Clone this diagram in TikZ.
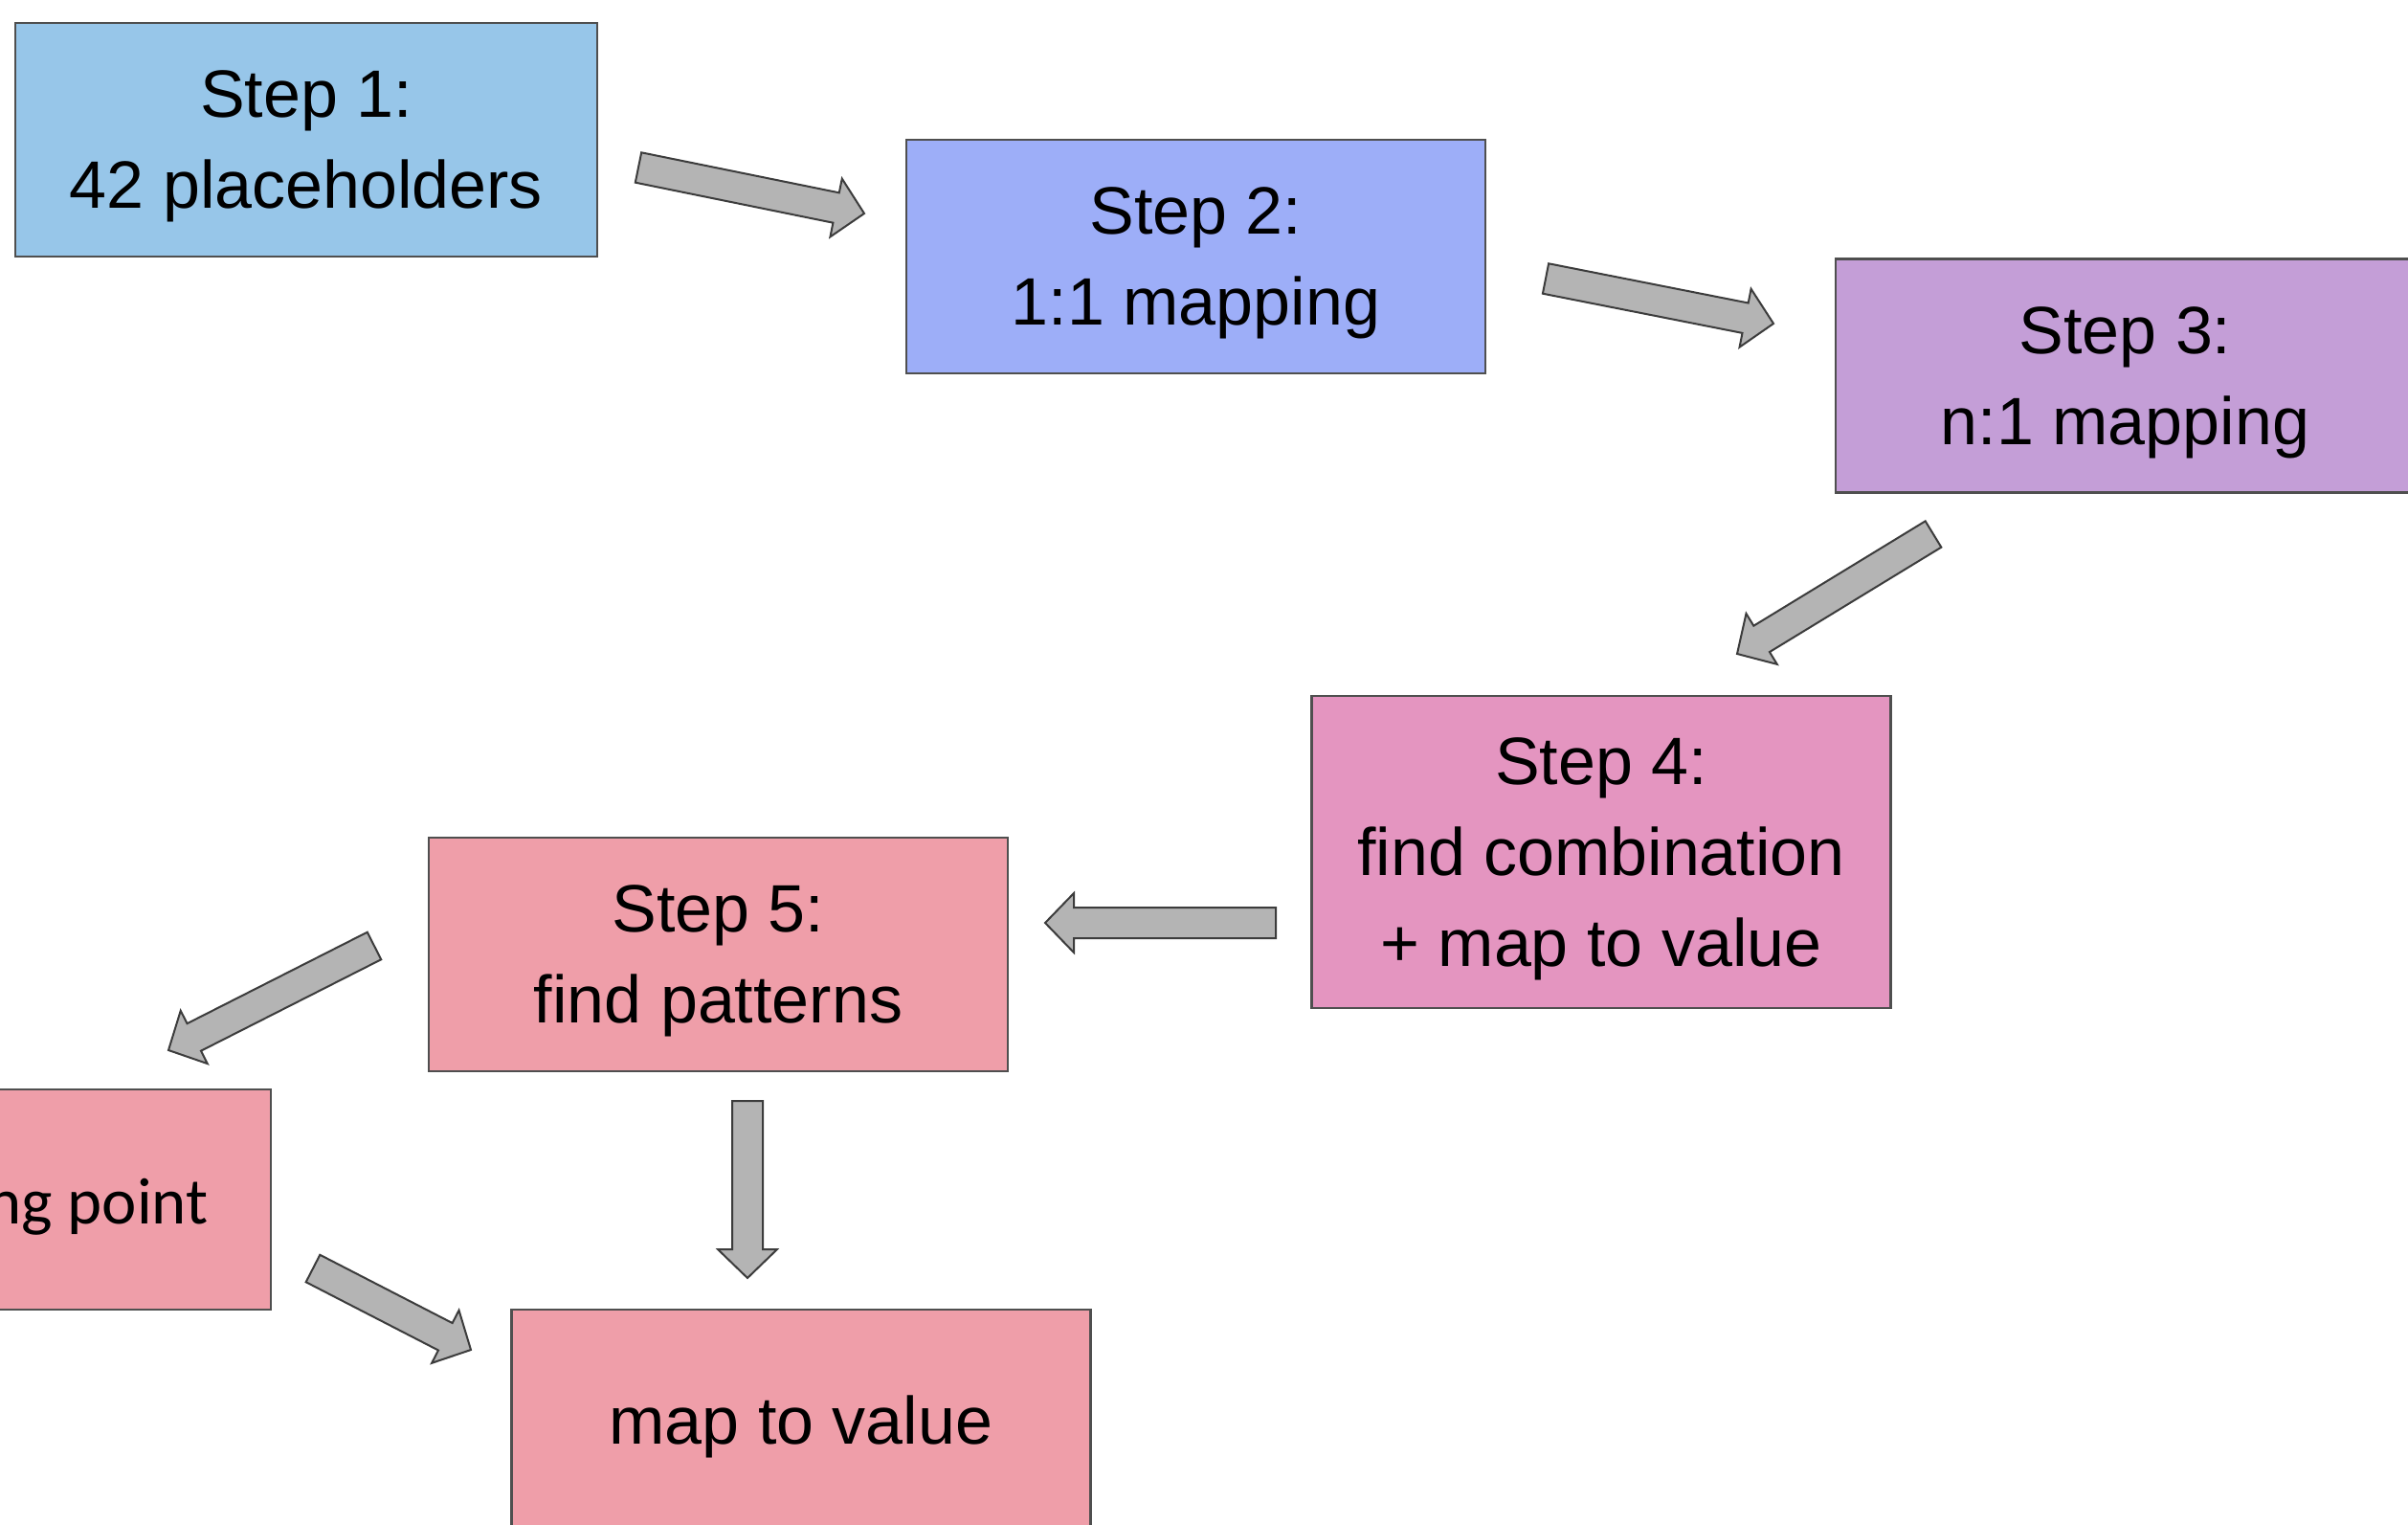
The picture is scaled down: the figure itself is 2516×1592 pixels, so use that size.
\documentclass[tikz,border=0pt]{standalone}
\usepackage{fontspec}
\setmainfont{Liberation Sans}
\newfontfamily\calfont{Carlito}
\usetikzlibrary{calc}

\definecolor{fillone}{HTML}{97C6E9}
\definecolor{filltwo}{HTML}{9DAEF8}
\definecolor{fillthree}{HTML}{C49ED7}
\definecolor{fillfour}{HTML}{E495C0}
\definecolor{fillfive}{HTML}{EF9EA9}
\definecolor{boxline}{HTML}{4F4F4F}
\definecolor{arrowgray}{HTML}{B4B4B4}
\definecolor{arrowline}{HTML}{3C3C3C}

\tikzset{
  stepbox/.style={draw=boxline, line width=1pt, inner sep=0pt, outer sep=0pt,
    minimum width=242pt, minimum height=97.6pt, align=center,
    font=\fontsize{28}{38}\selectfont},
  multiline/.style={text depth=0pt},
  blockarrow/.style={fill=arrowgray, draw=arrowline, line width=0.8pt, line join=miter},
}

% block arrow from #1 (tail centre) to #2 (tip)
\newcommand\blockarrow[2]{%
  \coordinate (ba-b) at ($(#2)!12pt!(#1)$);
  \draw[blockarrow]
    ($(#1)!6.4pt!90:(#2)$) -- ($(ba-b)!6.4pt!-90:(#1)$) --
    ($(ba-b)!12.4pt!-90:(#1)$) -- (#2) --
    ($(ba-b)!12.4pt!90:(#1)$) -- ($(ba-b)!6.4pt!90:(#1)$) --
    ($(#1)!6.4pt!-90:(#2)$) -- cycle;
}

\begin{document}
\begin{tikzpicture}[x=0.4pt, y=-0.4pt]
\useasboundingbox (0,0) rectangle (2516,1592);
\clip (0,0) rectangle (2516,1592);

% steps
\node[stepbox, multiline, fill=fillone, minimum width=243.2pt] (s1) at (320,146) {Step 1:\\42 placeholders};
\node[stepbox, multiline, fill=filltwo] (s2) at (1249.5,268) {Step 2:\\1:1 mapping};
\node[stepbox, multiline, fill=fillthree] (s3) at (2220.5,392.5) {Step 3:\\n:1 mapping};
\node[stepbox, multiline, fill=fillfour, minimum height=130.4pt] (s4) at (1673,890) {Step 4:\\find combination\\+ map to value};
\node[stepbox, multiline, fill=fillfive] (s5) at (750.5,997) {Step 5:\\find patterns};
\node[stepbox, fill=fillfive, minimum height=92pt] (s6) at (-19.5,1253) {};
\node[anchor=base east, inner sep=0pt, font=\calfont\fontsize{27.5}{33}\selectfont] (s6txt) at (218,1278) {ng point};
\node[stepbox, fill=fillfive] (s7) at (837,1490) {map to value};

% arrow ends
\coordinate (a1s) at (667,175);   \coordinate (a1e) at (903,223);
\coordinate (a2s) at (1615,291);  \coordinate (a2e) at (1853,338);
\coordinate (a3s) at (2020,558);  \coordinate (a3e) at (1815,683);
\coordinate (a4s) at (1333,964);  \coordinate (a4e) at (1092,964);
\coordinate (a5s) at (391,988);   \coordinate (a5e) at (176,1097);
\coordinate (a6s) at (781,1150);  \coordinate (a6e) at (781,1335);
\coordinate (a7s) at (327,1325);  \coordinate (a7e) at (492,1410);

\blockarrow{a1s}{a1e}
\blockarrow{a2s}{a2e}
\blockarrow{a3s}{a3e}
\blockarrow{a4s}{a4e}
\blockarrow{a5s}{a5e}
\blockarrow{a6s}{a6e}
\blockarrow{a7s}{a7e}
\end{tikzpicture}
\end{document}
